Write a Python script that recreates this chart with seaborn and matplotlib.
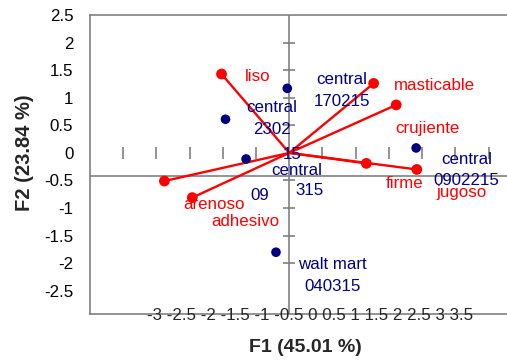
import matplotlib
matplotlib.use("Agg")
import matplotlib.pyplot as plt
import seaborn as sns

# variables (vectores en rojo)
variables = ["liso", "masticable", "crujiente", "firme", "jugoso", "arenoso", "adhesivo"]
var_f1 = [-1.02, 1.27, 1.61, 1.16, 1.92, -1.88, -1.46]
var_f2 = [1.43, 1.26, 0.87, -0.19, -0.30, -0.51, -0.81]

# observaciones (puntos azules)
obs_f1 = [-0.03, -0.96, -0.65, 1.91, -0.20]
obs_f2 = [1.17, 0.61, -0.11, 0.09, -1.80]

y_ticks = [2.5, 2, 1.5, 1, 0.5, 0, -0.5, -1, -1.5, -2, -2.5]
x_tick_labels = ["-3", "-2.5", "-2", "-1.5", "-1", "-0.5", "0", "0.5", "1", "1.5", "2", "2.5", "3", "3.5"]

# posiciones de las etiquetas (coordenadas del gráfico)
var_label_pos = [(-0.47, 1.39), (2.18, 1.23), (2.08, 0.45), (1.74, -0.56),
                 (2.59, -0.72), (-1.13, -0.94), (-0.66, -1.25)]
obs_labels = ["central\n170215", "central\n2302", "central\n0902215", "walt mart\n040315",
              "15", "central", "09", "315"]
obs_label_pos = [(0.79, 1.13), (-0.26, 0.62), (2.67, -0.31), (0.65, -2.22),
                 (0.05, -0.02), (0.11, -0.31), (-0.45, -0.78), (0.30, -0.69)]

RED = "#FF0000"
NAVY = "#000080"
GRAY = "#808080"

sns.set_theme(style="white")
plt.rcParams["font.family"] = ["Liberation Sans", "DejaVu Sans"]

fig = plt.figure(figsize=(5.07, 3.61), dpi=100)
ax = fig.add_axes([0.1775, 0.1302, 0.8516, 0.8283])
ax.set_xlim(-3, 3.5)
ax.set_ylim(-2.92, 2.5)

# ejes que cruzan en el origen
ax.axvline(0, color=GRAY, lw=1.2, zorder=1)
ax.axhline(-0.417, color=GRAY, lw=1.2, zorder=1)
tx = [-2.5, -2, -1.5, -1, -0.5, 0.5, 1, 1.5, 2, 2.5, 3]
ax.plot(tx, [0] * len(tx), ls="", marker="|", ms=8, mew=1.2, color=GRAY, zorder=1)
ty = [2, 1.5, 1, 0.5, -0.5, -1, -1.5, -2]
ax.plot([0] * len(ty), ty, ls="", marker="_", ms=9, mew=1.2, color=GRAY, zorder=1)

# vectores
for x, y in zip(var_f1, var_f2):
    ax.plot([0, x], [0, y], color=RED, lw=1.7, zorder=3)
sns.scatterplot(x=var_f1, y=var_f2, color=RED, s=60, edgecolor="none", ax=ax, zorder=4)
sns.scatterplot(x=obs_f1, y=obs_f2, color=NAVY, s=48, edgecolor="none", ax=ax, zorder=4)

for name, (x, y) in zip(variables, var_label_pos):
    ax.text(x, y, name, color=RED, fontsize=12.2, ha="center", va="center", zorder=5)
for name, (x, y) in zip(obs_labels, obs_label_pos):
    ax.text(x, y, name, color=NAVY, fontsize=12.2, ha="center", va="center",
            linespacing=1.55, zorder=5)

ax.set_yticks(y_ticks)
ax.set_yticklabels([f"{v:g}" for v in y_ticks], fontsize=12.2, color="black")
ax.tick_params(axis="y", length=0, pad=12)
ax.set_xticks([])
for s in ["left", "top", "bottom", "right"]:
    ax.spines[s].set_color(GRAY)
    ax.spines[s].set_linewidth(1.2)

fig.text(147 / 507, 1 - 316 / 361, " ".join(x_tick_labels), fontsize=12.2,
         ha="left", va="center")
fig.text(305 / 507, 1 - 348 / 361, "F1 (45.01 %)", fontsize=14, fontweight="bold",
         ha="center", va="center")
fig.text(24 / 507, 1 - 153 / 361, "F2 (23.84 %)", fontsize=14.5, fontweight="bold",
         rotation=90, ha="center", va="center")

fig.savefig("out.png", dpi=100)
